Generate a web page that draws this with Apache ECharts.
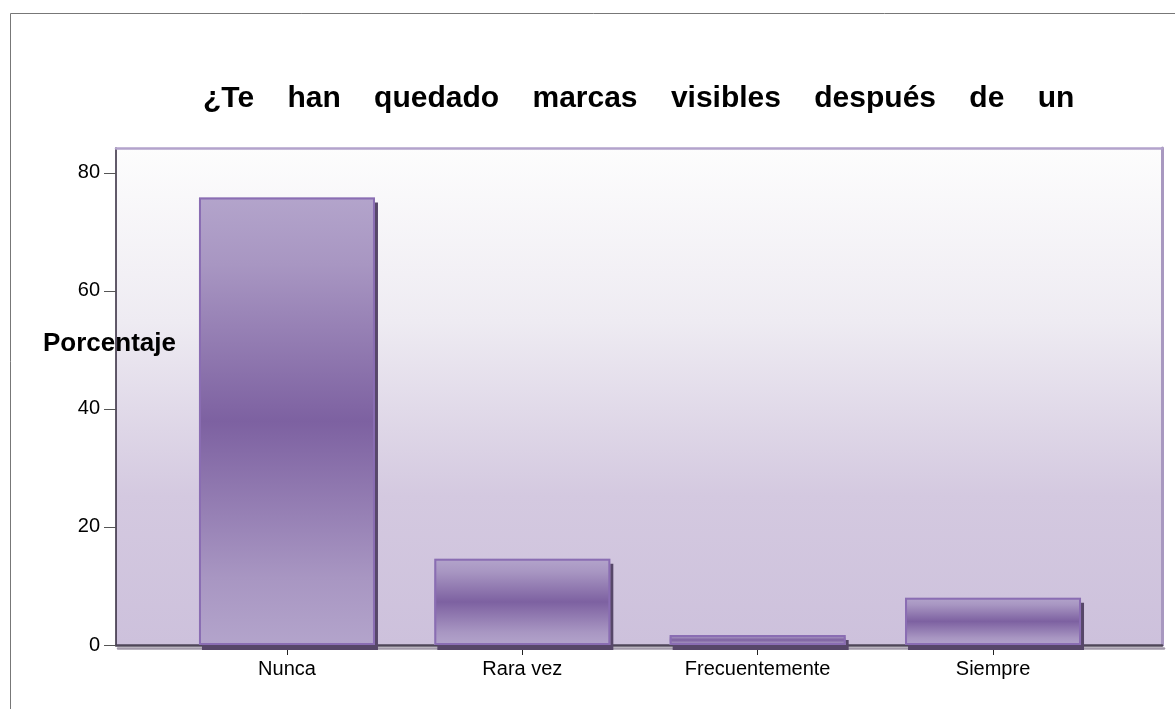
<!DOCTYPE html>
<html lang="es">
<head>
  <meta charset="UTF-8">
  <title>Marcas visibles</title>
  <style>
    body { margin: 0; padding: 0; background: #fff; }
    #chart { width: 1175px; height: 709px; }
  </style>
</head>
<body>
  <div id="chart"></div>
  <script src="https://cdn.jsdelivr.net/npm/echarts@6/dist/echarts.min.js"></script>
  <script>
    // values
    var categories = ['Nunca', 'Rara vez', 'Frecuentemente', 'Siempre'];
    var percentages = [75.8, 14.6, 1.7, 8.0];
    var yTicks = [0, 20, 40, 60, 80];
    var yMax = 84.2;

    var titleText = '¿Te    han    quedado    marcas    visibles    después    de    un';
    var font = "'Liberation Sans', Arial, sans-serif";

    var chart = echarts.init(document.getElementById('chart'));

    var plotBg = new echarts.graphic.LinearGradient(0, 0, 0, 1, [
      { offset: 0, color: '#fdfdfd' },
      { offset: 0.35, color: '#eeebf2' },
      { offset: 0.7, color: '#d4c9e0' },
      { offset: 1, color: '#cdc1dc' }
    ]);

    var barFill = new echarts.graphic.LinearGradient(0, 0, 0, 1, [
      { offset: 0, color: '#b3a4cb' },
      { offset: 0.15, color: '#a896c2' },
      { offset: 0.5, color: '#7d61a1' },
      { offset: 0.85, color: '#a896c2' },
      { offset: 1, color: '#b3a4cb' }
    ]);

    var hiddenAxis = {
      axisTick: { show: false }, axisLabel: { show: false }, splitLine: { show: false }
    };

    var option = {
      animation: false,
      title: {
        text: titleText,
        left: 198,
        top: 79,
        textStyle: { fontFamily: font, fontSize: 30, fontWeight: 'bold', color: '#000' }
      },
      grid: [
        // frame / background
        { left: 116, top: 148, right: 13, bottom: 64, show: true, backgroundColor: plotBg, borderWidth: 0 },
        // bars, narrower band so the categories sit like the original
        { left: 169.3, top: 148, right: 64.3, bottom: 64 }
      ],
      xAxis: [
        Object.assign({
          gridIndex: 0, type: 'value', min: 0, max: 1, position: 'bottom',
          axisLine: { show: true, onZero: false, lineStyle: { color: '#4e4658', width: 2.5, shadowColor: '#a39aab', shadowOffsetY: 3, shadowOffsetX: 2, shadowBlur: 0 } }
        }, hiddenAxis),
        Object.assign({
          gridIndex: 0, type: 'value', min: 0, max: 1, position: 'top',
          axisLine: { show: true, onZero: false, lineStyle: { color: '#b3a3cc', width: 2.5 } }
        }, hiddenAxis),
        {
          gridIndex: 1, type: 'category', data: categories,
          axisLine: { show: false },
          axisTick: { show: true, alignWithLabel: true, length: 10, lineStyle: { color: '#222', width: 1 } },
          axisLabel: { margin: 14, fontFamily: font, fontSize: 20, color: '#000' },
          splitLine: { show: false }
        }
      ],
      yAxis: [
        {
          gridIndex: 0, type: 'value', min: 0, max: yMax, position: 'left',
          axisLine: { show: true, onZero: false, lineStyle: { color: '#2e2438', width: 1.5 } },
          axisTick: { show: true, length: 12, customValues: yTicks, lineStyle: { color: '#555', width: 1 } },
          axisLabel: { customValues: yTicks, margin: 16, fontFamily: font, fontSize: 20, color: '#000' },
          splitLine: { show: false }
        },
        Object.assign({
          gridIndex: 0, type: 'value', min: 0, max: yMax, position: 'right',
          axisLine: { show: true, onZero: false, lineStyle: { color: '#a898c0', width: 3 } }
        }, hiddenAxis),
        {
          gridIndex: 1, type: 'value', min: 0, max: yMax, show: false
        }
      ],
      series: [
        {
          // filled bar with its drop shadow
          type: 'bar',
          xAxisIndex: 2,
          yAxisIndex: 2,
          data: percentages,
          barWidth: 176,
          z: 3,
          itemStyle: {
            color: barFill,
            borderWidth: 0,
            shadowColor: '#574769',
            shadowBlur: 0,
            shadowOffsetX: 3,
            shadowOffsetY: 5
          }
        },
        {
          // outline on top, no shadow
          type: 'bar',
          xAxisIndex: 2,
          yAxisIndex: 2,
          data: percentages,
          barWidth: 176,
          barGap: '-100%',
          z: 4,
          silent: true,
          itemStyle: {
            color: 'rgba(0,0,0,0)',
            borderColor: '#8a6db3',
            borderWidth: 2
          }
        }
      ],
      graphic: [
        {
          type: 'rect',
          z: 0,
          shape: { x: 10.5, y: 13.5, width: 1200, height: 800 },
          style: { fill: 'none', stroke: '#777', lineWidth: 1 }
        },
        {
          type: 'text',
          z: 100,
          left: 43,
          top: 331,
          style: { text: 'Porcentaje', font: "bold 26px 'Liberation Sans', Arial, sans-serif", fill: '#000' }
        }
      ]
    };

    chart.setOption(option);
  </script>
</body>
</html>
